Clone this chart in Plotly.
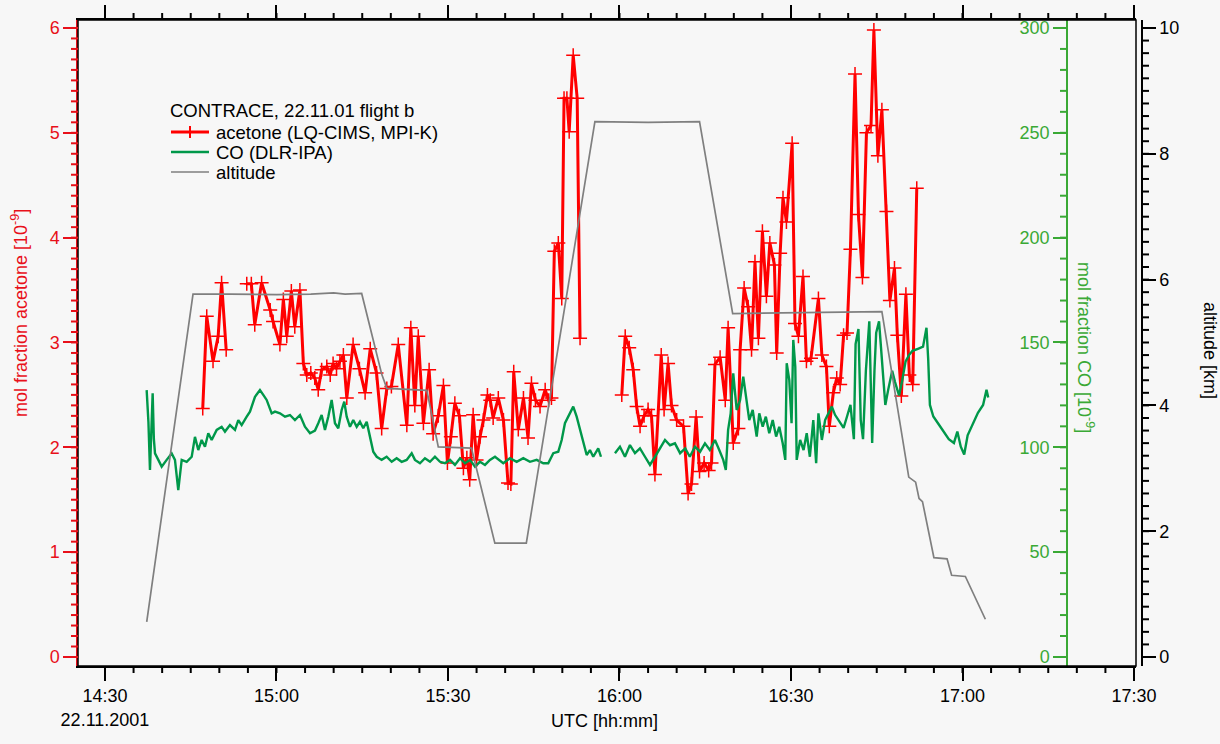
import math
import plotly.graph_objects as go

# time axis: minutes after 14:00 UTC, 22.11.2001
tick_minutes = [30, 60, 90, 120, 150, 180, 210]
tick_labels = ["14:30<br>22.11.2001", "15:00", "15:30", "16:00", "16:30", "17:00", "17:30"]

legend_title = "CONTRACE, 22.11.01 flight b"
series_names = ["acetone (LQ-CIMS, MPI-K)", "CO (DLR-IPA)", "altitude"]

# ---- acetone (LQ-CIMS, MPI-K), 10^-9 ; None = data gap ----
ace_t = [47.1, 47.8, 48.9, 49.8, 50.4, 51.2, None,
         54.8, 55.6, 56.2, 57.4, 58.9, 59.4, 60.6, 61.2, 61.8, 62.6,
         63.2, 64.1, 64.7, 65.3, 66.0, 66.7, 67.3, 67.9, 68.8, 69.4,
         69.9, 70.5, 71.1, 71.7, 72.3, 73.4, 74.5, 75.5, 76.4, 77.5,
         78.4, 79.3, 80.1, 81.3, 82.8, 83.5, 84.2, 84.8, 85.7, 86.7,
         87.4, 88.3, 89.2, 89.9, 90.5, 91.2, 92.0, 92.7, 93.3, 93.8,
         94.4, 95.0, 95.6, 96.2, 96.9, 97.4, 97.9, 98.8, 99.7, 100.5,
         101.0, 101.5, 102.3, 103.2, 104.0, 104.6, 105.3, 106.1, 107.0, 107.6,
         108.1, 108.6, 109.3, 109.9, 110.3, 110.8, 111.2, 111.9, 112.6, 113.1, None,
         120.4, 121.0, 121.7, 122.4, 123.0, 123.6, 124.3, 125.0, 125.6, 126.2,
         127.3, 127.8, 128.5, 129.1, 130.0, 131.2, 132.0, 132.6, 133.4, 134.0,
         134.8, 135.6, 136.1, 136.7, 137.6, 138.5, 139.0, 139.9, 140.8, 141.1,
         141.8, 142.5, 143.1, 143.7, 144.3, 145.0, 145.7, 146.3, 147.1, 147.5,
         148.1, 148.6, 149.2, 150.2, 150.7, 151.3, 152.1, 152.7, 153.5, 154.8,
         155.4, 156.2, 156.7, 157.4, 158.0, 158.6, 159.2, 159.8, 160.4, 161.2,
         161.8, 162.5, 163.2, 164.0, 164.5, 165.2, 165.9, 166.7, 167.3, 168.1,
         168.6, 169.3, 170.1, 170.7, 171.3, 172.0]
ace_v = [2.37, 3.25, 2.82, 3.06, 3.57, 2.93, None,
         3.56, 3.56, 3.17, 3.57, 3.31, 3.20, 2.98, 3.41, 3.06, 3.49,
         3.15, 3.50, 2.80, 2.69, 2.71, 2.66, 2.55, 2.74, 2.77, 2.69,
         2.80, 2.75, 2.82, 2.88, 2.47, 2.98, 2.75, 2.52, 2.94, 2.71,
         2.18, 2.56, 2.58, 2.98, 2.21, 3.14, 2.40, 3.06, 2.23, 2.74,
         2.13, 2.30, 2.59, 1.85, 2.10, 2.42, 2.30, 1.80, 1.90, 1.69,
         2.31, 1.88, 2.10, 2.26, 2.50, 2.45, 2.28, 2.47, 2.26, 1.66,
         1.65, 2.72, 2.17, 2.47, 2.09, 2.61, 2.45, 2.39, 2.55, 2.45,
         2.47, 3.87, 3.95, 3.42, 5.33, 5.33, 5.01, 5.74, 5.33, 3.04, None,
         2.50, 3.06, 2.95, 2.74, 2.39, 2.20, 2.30, 2.36, 2.30, 1.74,
         2.88, 2.36, 2.80, 2.40, 2.26, 2.20, 1.56, 1.65, 2.29, 1.77,
         1.85, 1.78, 1.85, 2.79, 2.86, 2.45, 3.14, 2.04, 2.18, 2.93,
         3.52, 3.34, 2.93, 3.77, 3.04, 4.06, 3.44, 3.95, 3.74, 2.90,
         3.85, 4.38, 4.15, 4.90, 3.18, 3.06, 3.63, 2.82, 2.85, 3.42,
         2.88, 2.77, 2.20, 2.52, 2.66, 2.60, 3.07, 3.09, 3.89, 5.56,
         4.22, 3.62, 5.00, 5.07, 5.98, 4.78, 5.22, 4.25, 3.40, 3.71,
         3.07, 2.49, 3.46, 2.69, 2.60, 4.47]

# ---- CO (DLR-IPA), 10^-9 ----
co_t = [37.29, 37.6, 37.87, 38.1, 38.34, 38.55, 38.75, 39.33, 39.92, 40.79,
        41.67, 42.24, 42.82, 43.42, 44.29, 45.17, 45.74, 46.32, 46.91, 47.49,
        48.07, 48.66, 49.54, 50.41, 50.99, 51.86, 52.74, 53.32, 53.91, 54.79,
        55.36, 56.24, 57.11, 57.69, 58.28, 59.16, 59.74, 60.61, 61.49, 62.36,
        63.23, 64.11, 64.98, 65.86, 66.73, 67.31, 67.90, 68.48, 69.06, 69.65,
        70.23, 70.81, 71.40, 71.86, 72.28, 72.86, 73.43, 74.03, 74.60, 75.18,
        75.78, 76.35, 76.93, 77.53, 78.40, 79.27, 80.15, 81.02, 81.90, 82.77,
        83.65, 84.22, 85.10, 85.97, 86.85, 87.72, 88.60, 89.47, 90.35, 91.22,
        92.10, 92.97, 93.85, 94.72, 95.60, 96.47, 97.34, 98.22, 99.67, 100.84,
        102.01, 103.17, 104.34, 105.51, 106.67, 107.54, 108.42, 109.29, 109.89, 110.46,
        111.34, 111.91, 112.51, 113.09, 113.66, 114.26, 114.83, 115.41, 116.28, 116.76,
        None,
        119.21, 120.08, 120.96, 121.83, 122.71, 123.58, 124.46, 125.33, 126.21, 127.08,
        127.96, 128.84, 129.70, 130.60, 131.50, 132.30, 133.20, 134.10, 134.95, 135.80,
        136.70, 137.45, 138.15, 138.60, 139.00, 139.45, 139.90, 140.50, 141.10, 141.65,
        142.10, 142.70, 143.30, 144.00, 144.45, 145.05, 145.60, 146.20, 146.80, 147.40,
        147.95, 148.55, 149.00, 149.25, 149.70, 150.10, 150.40, 150.75, 151.00, 151.60,
        152.20, 152.75, 153.30, 153.90, 154.40, 154.80, 155.40, 155.97, 156.55, 157.15,
        157.70, 158.60, 159.20, 159.80, 160.40, 161.00, 161.30, 161.80, 162.20, 162.60,
        163.10, 163.70, 164.20, 164.60, 164.90, 165.40, 165.80, 166.50, 167.00, 167.70,
        168.20, 168.90, 169.40, 170.05, 170.65, 171.25, 172.20, 173.10, 173.70, 174.00,
        174.30, 174.90, 175.80, 176.70, 177.60, 178.50, 179.10, 179.70, 180.30, 180.90,
        181.80, 182.70, 183.60, 184.20, 184.50]
co_v = [127.3, 112.0, 89.2, 110.0, 125.8, 104.0, 97.1, 94.0, 90.8, 94.0,
        97.1, 94.0, 79.6, 94.0, 93.1, 95.5, 105.0, 98.7, 103.5, 100.3,
        106.7, 103.5, 108.3, 109.8, 107.5, 110.6, 108.3, 113.0, 110.6, 114.6,
        117.0, 124.1, 127.3, 125.0, 122.6, 116.2, 117.0, 116.2, 114.6, 115.4,
        113.0, 115.4, 109.8, 106.7, 108.0, 111.5, 115.4, 108.3, 114.6, 122.6,
        111.5, 109.1, 117.8, 121.8, 114.6, 109.8, 113.0, 109.8, 112.2, 109.1,
        112.2, 105.1, 97.9, 95.5, 94.0, 95.5, 93.1, 94.8, 93.1, 94.0,
        97.2, 94.0, 92.4, 94.8, 93.1, 95.5, 93.1, 92.4, 94.0, 91.6,
        94.8, 92.4, 94.0, 90.8, 93.1, 91.6, 94.0, 95.5, 92.4, 94.8,
        93.1, 94.8, 93.1, 94.0, 92.4, 92.4, 97.2, 97.9, 103.5, 111.5,
        116.2, 119.4, 114.6, 108.3, 101.9, 96.3, 98.7, 95.5, 99.5, 95.5,
        None,
        97.2, 100.3, 95.5, 101.1, 97.2, 99.5, 95.5, 91.6, 95.5, 99.5,
        103.5, 101.0, 101.9, 97.2, 99.5, 95.5, 100.3, 97.9, 101.9, 98.7,
        103.5, 98.7, 94.0, 89.2, 108.3, 116.2, 135.3, 117.8, 122.6, 133.7,
        125.8, 113.0, 117.8, 105.1, 116.2, 109.8, 114.6, 106.7, 113.0, 105.1,
        109.8, 101.9, 94.0, 140.1, 132.1, 111.5, 151.2, 138.4, 94.0, 103.5,
        98.7, 106.7, 95.5, 113.0, 92.4, 116.2, 103.5, 113.0, 116.2, 119.4,
        115.5, 112.0, 109.3, 114.7, 120.2, 103.9, 149.2, 156.4, 112.9, 103.9,
        136.5, 160.1, 102.1, 136.5, 154.6, 160.1, 145.6, 120.2, 127.4, 136.5,
        131.1, 124.7, 131.1, 141.0, 144.0, 146.0, 147.0, 148.0, 157.0, 142.0,
        120.2, 114.7, 111.1, 107.5, 103.9, 102.1, 107.5, 100.3, 96.6, 105.7,
        111.1, 116.5, 120.2, 127.4, 123.8]

# ---- altitude, km ----
alt_t = [37.3, 45.4, 52.0, 60.0, 66.0, 70.0, 72.0, 74.9, 78.4, 79.3,
         86.3, 88.3, 94.1, 98.2, 103.7, 115.7, 125.0, 134.0, 139.8, 150.0,
         165.9, 170.6, 171.8, 172.4, 173.0, 175.0, 177.3, 178.1, 180.5, 184.0]
alt_v = [0.56, 5.77, 5.77, 5.76, 5.77, 5.79, 5.77, 5.78, 4.50, 4.27,
         4.24, 3.34, 3.32, 1.81, 1.81, 8.51, 8.50, 8.51, 5.46, 5.47,
         5.49, 2.86, 2.78, 2.52, 2.47, 1.58, 1.56, 1.30, 1.28, 0.60]

RED = "#ff0000"
RED_AX = "#e8101a"
GREEN = "#00984a"
GREEN_AX = "#3aa935"
GRAY = "#7f7f7f"
FONT = "Liberation Sans, Arial, sans-serif"
BG = "#f7f7f7"
TICKF = 18
TITLEF = 18
TICKW = 2
CO_W = 2.4

# plot-area geometry (pixels) for paper conversions
L, T, W, H = 78, 20, 1064, 646
XDOM = 1058 / W
CO_POS = (1067 - L) / W


def px(xp):
    return (xp - L) / W


def py(yp):
    return 1 - (yp - T) / H


X_RANGE = [25.28, 210.35]
ACE_RANGE = [-0.086, 6.076]
CO_RANGE = [-4.3, 303.8]
ALT_RANGE = [-0.143, 10.127]

# minor tick steps
X_MINOR, ACE_MINOR, CO_MINOR, ALT_MINOR = 5, 0.1, 10, 0.2

fig = go.Figure()
fig.add_trace(go.Scatter(
    x=co_t, y=co_v, name=series_names[1], mode="lines",
    line=dict(color=GREEN, width=CO_W), connectgaps=False, yaxis="y2",
    showlegend=False))
fig.add_trace(go.Scatter(
    x=alt_t, y=alt_v, name=series_names[2], mode="lines",
    line=dict(color=GRAY, width=1.7), yaxis="y3", showlegend=False))
fig.add_trace(go.Scatter(
    x=ace_t, y=ace_v, name=series_names[0], mode="lines+markers",
    line=dict(color=RED, width=3),
    marker=dict(symbol="cross-thin", size=10, line=dict(color=RED, width=1.5)),
    connectgaps=False, yaxis="y", showlegend=False))

common = dict(showgrid=False, zeroline=False, automargin=False)

fig.update_layout(
    width=1220, height=744,
    margin=dict(l=L, r=1220 - L - W, t=T, b=744 - T - H, autoexpand=False),
    paper_bgcolor=BG, plot_bgcolor=BG,
    font=dict(family=FONT, size=TICKF, color="black"),
    showlegend=False,
    xaxis=dict(domain=[0, XDOM], range=X_RANGE,
               tickmode="array", tickvals=tick_minutes, ticktext=tick_labels,
               ticks="outside", ticklen=13, tickwidth=TICKW, tickcolor="black",
               showline=True, linecolor="black", linewidth=1.5, mirror="ticks",
               tickfont=dict(size=TICKF, color="black"), **common),
    yaxis=dict(range=ACE_RANGE, tick0=0, dtick=1,
               ticks="outside", ticklen=13, tickwidth=TICKW, tickcolor=RED_AX,
               showline=True, linecolor=RED_AX, linewidth=1.5,
               tickfont=dict(size=TICKF, color=RED_AX), **common),
    yaxis2=dict(overlaying="y", anchor="free", position=CO_POS, side="left",
                range=CO_RANGE, tick0=0, dtick=50,
                ticks="outside", ticklen=13, tickwidth=TICKW, tickcolor=GREEN_AX,
                showline=True, linecolor=GREEN_AX, linewidth=1.5,
                tickfont=dict(size=TICKF, color=GREEN_AX), **common),
    yaxis3=dict(overlaying="y", anchor="free", position=1.0, side="right",
                range=ALT_RANGE, tick0=0, dtick=2,
                ticks="outside", ticklen=13, tickwidth=TICKW, tickcolor="black",
                showline=True, linecolor="black", linewidth=1.5,
                tickfont=dict(size=TICKF, color="black"), **common),
)


def steps(lo, hi, step):
    k0 = math.ceil(lo / step - 1e-9)
    k1 = math.floor(hi / step + 1e-9)
    return [round(k * step, 6) for k in range(k0, k1 + 1)]


def frac(v, rng):
    return (v - rng[0]) / (rng[1] - rng[0])


# frame
shapes = [dict(type="rect", xref="paper", yref="paper", x0=0, x1=XDOM, y0=0, y1=1,
               line=dict(color="black", width=1.5), fillcolor="rgba(0,0,0,0)", layer="above")]

# minor ticks (axis decoration, positions follow the axis ranges)
MINLEN = 7
dy = MINLEN / H
dx = MINLEN / W
for v in steps(X_RANGE[0], X_RANGE[1], X_MINOR):
    xp = XDOM * frac(v, X_RANGE)
    for a, b in [(-dy, 0), (1, 1 + dy)]:
        shapes.append(dict(type="line", xref="paper", yref="paper", x0=xp, x1=xp,
                           y0=a, y1=b, layer="above",
                           line=dict(color="black", width=TICKW)))
for rng, vals, xa, xb, col in [
        (ACE_RANGE, steps(0, 6, ACE_MINOR), -dx, 0, RED_AX),
        (CO_RANGE, steps(0, 300, CO_MINOR), CO_POS - dx, CO_POS, GREEN_AX),
        (ALT_RANGE, steps(0, 10, ALT_MINOR), 1.0, 1.0 + dx, "black")]:
    for v in vals:
        yp = frac(v, rng)
        shapes.append(dict(type="line", xref="paper", yref="paper", x0=xa, x1=xb,
                           y0=yp, y1=yp, layer="above",
                           line=dict(color=col, width=TICKW)))

# legend (drawn as real text + sample lines)
LEG_X0, LEG_X1, LEG_TX = 171, 209, 214
leg_rows = [132, 152, 172]
leg_styles = [dict(color=RED, width=3), dict(color=GREEN, width=CO_W), dict(color=GRAY, width=1.7)]
for yrow, st in zip(leg_rows, leg_styles):
    shapes.append(dict(type="line", xref="paper", yref="paper",
                       x0=px(LEG_X0), x1=px(LEG_X1), y0=py(yrow), y1=py(yrow), line=st))
shapes.append(dict(type="line", xref="paper", yref="paper",
                   x0=px(190), x1=px(190), y0=py(leg_rows[0] - 6), y1=py(leg_rows[0] + 6),
                   line=dict(color=RED, width=2)))

annotations = [
    dict(text=legend_title, xref="paper", yref="paper", x=px(LEG_X0 - 3), y=py(111),
         xanchor="left", yanchor="middle", showarrow=False,
         font=dict(size=18.5, color="black")),
]
for yrow, name in zip(leg_rows, series_names):
    annotations.append(dict(text=name, xref="paper", yref="paper", x=px(LEG_TX), y=py(yrow),
                            xanchor="left", yanchor="middle", showarrow=False,
                            font=dict(size=18.5, color="black")))

annotations += [
    dict(text="mol fraction acetone [10<sup>-9</sup>]", xref="paper", yref="paper",
         x=px(19), y=py(313), textangle=-90, showarrow=False,
         font=dict(size=TITLEF, color=RED_AX), xanchor="center", yanchor="middle"),
    dict(text="mol fraction CO [10<sup>-9</sup>]", xref="paper", yref="paper",
         x=px(1086), y=py(347), textangle=90, showarrow=False,
         font=dict(size=TITLEF, color=GREEN_AX), xanchor="center", yanchor="middle"),
    dict(text="altitude [km]", xref="paper", yref="paper",
         x=px(1210), y=py(350), textangle=90, showarrow=False,
         font=dict(size=TITLEF, color="black"), xanchor="center", yanchor="middle"),
    dict(text="UTC [hh:mm]", xref="paper", yref="paper",
         x=px(604), y=py(721), showarrow=False,
         font=dict(size=TITLEF, color="black"), xanchor="center", yanchor="middle"),
]

fig.update_layout(shapes=shapes, annotations=annotations)
fig.write_html("out.html")
